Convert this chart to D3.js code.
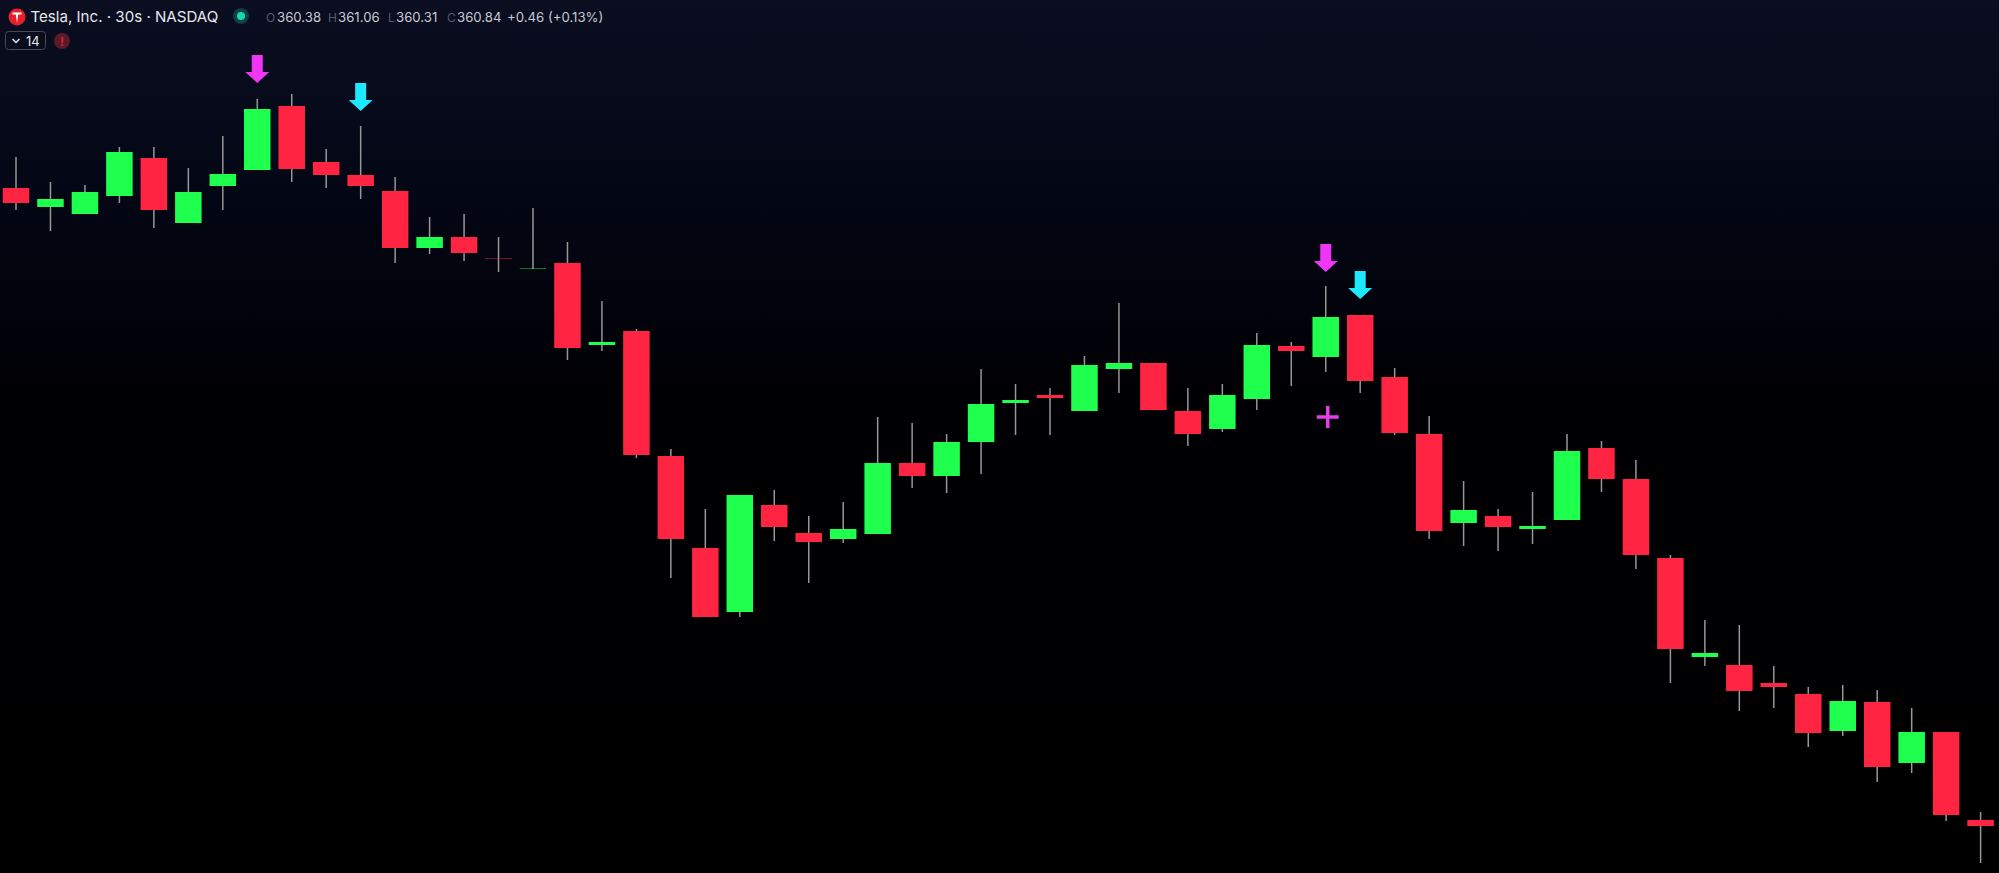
<!DOCTYPE html>
<html lang="en">
<head>
  <meta charset="UTF-8">
  <title>Tesla, Inc. 30s</title>
  <style>
    html, body { margin: 0; padding: 0; background: #000; overflow: hidden; }
    svg { display: block; }
    text { font-family: Inter, "Noto Sans", sans-serif; }
  </style>
</head>
<body>
  <div class="canvas"></div>
  <script src="https://cdnjs.cloudflare.com/ajax/libs/d3/7.8.5/d3.min.js"></script>
  <script>
// candles
const opens = [362.13,361.94,361.87,362.05,362.43,361.78,362.15,362.31,362.95,362.39,362.26,362.10,361.53,361.64,361.43,361.32,361.38,360.56,360.70,359.45,358.53,357.89,358.96,358.68,358.62,358.67,359.38,359.25,359.59,359.98,360.06,359.90,360.32,360.38,359.90,359.72,360.02,360.55,360.44,360.86,360.24,359.67,358.78,358.85,358.72,358.81,359.53,359.22,358.43,357.44,357.36,357.18,357.07,356.70,356.99,356.38,356.69,355.81];
const highs = [362.44,362.19,362.16,362.54,362.54,362.33,362.65,363.02,363.07,362.52,362.75,362.24,361.84,361.87,361.64,361.93,361.59,361.00,360.72,359.52,358.92,359.06,359.11,358.85,358.99,359.84,359.78,359.67,360.32,360.17,360.13,360.45,360.98,360.38,360.13,360.17,360.68,360.59,361.15,360.86,360.33,359.85,359.20,358.92,359.09,359.67,359.60,359.41,358.46,357.81,357.76,357.35,357.14,357.16,357.11,356.93,356.69,355.89];
const lows = [361.91,361.70,361.87,361.98,361.73,361.78,361.91,362.31,362.19,362.13,362.02,361.38,361.47,361.40,361.29,361.32,360.41,360.50,359.43,358.23,357.84,357.84,358.60,358.18,358.58,358.67,359.13,359.08,359.27,359.66,359.66,359.90,360.08,359.91,359.55,359.69,359.91,360.15,360.29,360.08,359.66,358.62,358.55,358.50,358.57,358.81,359.09,358.32,357.18,357.35,356.90,356.93,356.54,356.65,356.19,356.28,355.80,355.38];
const closes = [361.98,362.02,362.09,362.49,361.91,362.09,362.27,362.92,362.32,362.26,362.15,361.53,361.64,361.48,361.42,361.33,360.53,360.59,359.46,358.62,357.84,359.06,358.74,358.59,358.72,359.38,359.25,359.59,359.97,360.01,360.03,360.36,360.38,359.91,359.67,360.06,360.56,360.50,360.84,360.20,359.68,358.70,358.91,358.74,358.75,359.50,359.22,358.46,357.52,357.48,357.10,357.14,356.68,357.00,356.34,356.69,355.86,355.75];

// signal arrows: candle index and the price at the arrow tip
const arrowIndex = [7, 10, 38, 39];
const arrowPrice = [363.18, 362.90, 361.29, 361.02];
const arrowColor = ['#f035f5', '#1ce9ff', '#f035f5', '#1ce9ff'];

// legend row
const legendLabels = ['O', 'H', 'L', 'C'];
const legendValues = ['360.38', '361.06', '360.31', '360.84'];
const legendLabelX = [266, 328, 388, 447];
const legendValueX = [277, 338, 396, 457];

const width = 1999;
const height = 873;
const bodyWidth = 26.5;

const svg = d3.select('.canvas').append('svg')
  .attr('width', width)
  .attr('height', height);

// background fades from navy at the top to black
const grad = svg.append('defs').append('linearGradient')
  .attr('id', 'bg')
  .attr('x1', 0).attr('x2', 0).attr('y1', 0).attr('y2', 1);
grad.append('stop').attr('offset', '0%').attr('stop-color', '#0a0e20');
grad.append('stop').attr('offset', '20%').attr('stop-color', '#040716');
grad.append('stop').attr('offset', '45%').attr('stop-color', '#000004');
grad.append('stop').attr('offset', '100%').attr('stop-color', '#000000');

svg.append('rect')
  .attr('width', width)
  .attr('height', height)
  .attr('fill', 'url(#bg)');

const x = d3.scalePoint().domain(d3.range(opens.length)).range([16, 1980.6]);
const y = d3.scaleLinear().domain([364.01, 355.28]).range([0, height]);

const candles = svg.append('g').selectAll('g')
  .data(d3.range(opens.length))
  .join('g');

// wicks
candles.append('line')
  .attr('x1', i => x(i))
  .attr('x2', i => x(i))
  .attr('y1', i => y(highs[i]))
  .attr('y2', i => y(lows[i]))
  .attr('stroke', '#979797')
  .attr('stroke-width', 1.5);

// bodies
candles.append('rect')
  .attr('x', i => x(i) - bodyWidth / 2)
  .attr('width', bodyWidth)
  .attr('y', i => y(Math.max(opens[i], closes[i])))
  .attr('height', i => Math.abs(y(opens[i]) - y(closes[i])))
  .attr('fill', i => closes[i] >= opens[i] ? '#1fff4e' : '#ff2542')
  .attr('fill-opacity', i => Math.abs(opens[i] - closes[i]) < 0.015 ? 0.45 : 1);

// arrows, drawn from the tip upwards
svg.append('g').selectAll('path')
  .data(arrowIndex)
  .join('path')
  .attr('transform', (d, i) => `translate(${x(d)},${y(arrowPrice[i])})`)
  .attr('d', 'M0 0 L-12 -11 L-5.5 -11 L-5.5 -28 L5.5 -28 L5.5 -11 L12 -11 Z')
  .attr('fill', (d, i) => arrowColor[i]);

// plus marker below the signal candle
const plus = svg.append('g')
  .attr('transform', `translate(${x(38) + 2},${y(359.84)})`)
  .attr('stroke', '#e23fe8')
  .attr('stroke-width', 3.5);
plus.append('line').attr('x1', -11).attr('x2', 11);
plus.append('line').attr('y1', -11).attr('y2', 11);

// header
const header = svg.append('g');

header.append('circle').attr('cx', 17).attr('cy', 17).attr('r', 8.5).attr('fill', '#e5202b');
header.append('path')
  .attr('d', 'M12.5 12.5 L21.5 12.5 L21.5 14.5 L18.2 14.5 L17 23 L15.8 14.5 L12.5 14.5 Z')
  .attr('fill', '#fff');

header.append('text')
  .attr('x', 30.5)
  .attr('y', 22)
  .attr('font-size', 15.1)
  .attr('fill', '#e6e7ec')
  .text('Tesla, Inc. · 30s · NASDAQ');

header.append('circle').attr('cx', 241).attr('cy', 16).attr('r', 8).attr('fill', '#0c4045');
header.append('circle').attr('cx', 241).attr('cy', 16).attr('r', 4).attr('fill', '#1cd9a8');

legendLabels.forEach((d, i) => {
  header.append('text')
    .attr('x', legendLabelX[i])
    .attr('y', 21.5)
    .attr('font-size', 12)
    .attr('fill', '#565b6b')
    .text(d);
  header.append('text')
    .attr('x', legendValueX[i])
    .attr('y', 21.5)
    .attr('font-size', 13.2)
    .attr('fill', '#c8c9d1')
    .text(legendValues[i]);
});

header.append('text')
  .attr('x', 507)
  .attr('y', 21.5)
  .attr('font-size', 13.2)
  .attr('fill', '#c8c9d1')
  .text('+0.46 (+0.13%)');

// collapse button and warning badge
header.append('rect')
  .attr('x', 5.5).attr('y', 31.5)
  .attr('width', 40).attr('height', 18)
  .attr('rx', 3)
  .attr('fill', 'none')
  .attr('stroke', '#464a55');
header.append('path')
  .attr('d', 'M12.5 39 L16 42.5 L19.5 39')
  .attr('fill', 'none')
  .attr('stroke', '#e6e7ec')
  .attr('stroke-width', 1.5);
header.append('text')
  .attr('x', 26)
  .attr('y', 45.5)
  .attr('font-size', 13)
  .attr('fill', '#e6e7ec')
  .text('14');

header.append('circle').attr('cx', 62).attr('cy', 41).attr('r', 8).attr('fill', '#5c1a28');
header.append('text')
  .attr('x', 62)
  .attr('y', 45.5)
  .attr('text-anchor', 'middle')
  .attr('font-size', 12)
  .attr('font-weight', 700)
  .attr('fill', '#c8283c')
  .text('!');
  </script>
</body>
</html>
